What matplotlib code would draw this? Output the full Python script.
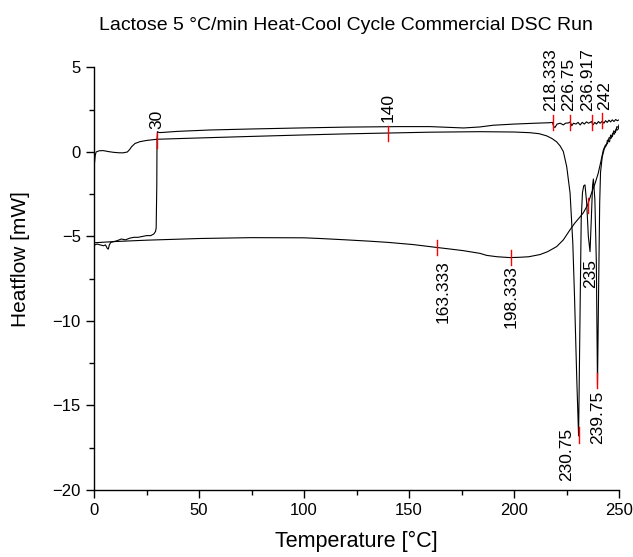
import matplotlib.pyplot as plt
from matplotlib.ticker import MultipleLocator

plt.rcParams['font.family'] = ['Liberation Sans', 'DejaVu Sans']

# first heating run (0 -> 250 C), with the melting endotherms
heat1_T = [0.2, 0.6, 1.0, 2.5, 4.4, 7, 9.2, 12, 14, 15.9, 17, 17.9, 19.5, 21.9, 25, 29.8, 40,
           50.5, 75, 98, 120, 140, 160, 183.8, 200, 207.6, 212, 215.6, 218, 220.3, 222, 223.5,
           225.1, 226.7, 228, 228.8, 229.9, 230.75, 231.5, 232, 232.6, 233.2, 233.8, 234.6,
           235.4, 236.2, 236.8, 237.4, 237.8, 238.5, 239.2, 239.75, 240.3, 240.8, 241.2, 242,
           243, 244, 244.5, 245.5, 246, 246.8, 247.5, 248.3, 249, 249.7, 250]
heat1_Q = [-0.7, -0.2, 0.0, 0.07, 0.08, 0.02, -0.02, -0.05, -0.05, 0.0, 0.15, 0.31, 0.5, 0.61,
           0.68, 0.75, 0.79, 0.83, 0.92, 1.0, 1.07, 1.12, 1.17, 1.2, 1.18, 1.14, 1.08, 0.95, 0.8,
           0.6, 0.35, 0.02, -0.87, -2.44, -5.4, -8.5, -13.5, -16.8, -9, -4, -2.4, -2.0, -1.95,
           -3.0, -5.0, -5.9, -4.0, -2.0, -1.6, -2.8, -6.5, -13.8, -8, -3, -1.2, -0.3, 0.2, 0.4,
           0.7, 0.6, 1.0, 0.9, 1.25, 1.15, 1.5, 1.45, 1.6]

# cooling run (250 -> 0 C)
cool_T = [250, 249.3, 248.6, 247.8, 247, 246.2, 245.3, 244.5, 243.5, 242.5, 241.3, 240.1, 238.5,
          237, 235, 233, 231.4, 229, 226.7, 223.5, 220.3, 216, 212.4, 207, 202.9, 198.1, 192,
          187, 183.8, 175.9, 170, 163.2, 152, 140, 131.4, 120, 107.6, 100, 75, 50.5, 25, 10, 0.3]
cool_Q = [1.45, 1.3, 1.35, 1.05, 1.1, 0.8, 0.85, 0.5, 0.4, 0.1, -0.6, -1.26, -1.9, -2.4, -3.15,
          -3.6, -3.85, -4.2, -4.6, -5.2, -5.6, -5.9, -6.07, -6.2, -6.23, -6.25, -6.2, -6.12, -6.0,
          -5.84, -5.75, -5.65, -5.48, -5.35, -5.28, -5.2, -5.12, -5.08, -5.07, -5.12, -5.22, -5.3,
          -5.37]

# second heating run (0 -> 250 C)
heat2_T = [0.3, 1.5, 3, 4.5, 5.5, 6.3, 6.8, 7.3, 8, 9.5, 11, 13, 15, 17, 19, 21, 23, 25, 27,
           28.5, 29.3, 29.6, 29.9, 30, 30.2, 31, 32, 40, 55.2, 75, 98, 120, 145, 160, 170, 176,
           183.8, 190, 200, 210, 217, 218.3, 218.9, 219.5, 220.5, 222, 223.5, 224.5, 226, 226.75,
           227.5, 228.3, 229.5, 230.5, 231.5, 232.5, 233.5, 234.5, 235.5, 236.9, 237.6, 238.5,
           239.3, 240.2, 241, 242, 242.8, 243.6, 244.4, 245.2, 246, 246.8, 247.6, 248.4, 249.2,
           250]
heat2_Q = [-5.5, -5.45, -5.5, -5.55, -5.5, -5.7, -5.75, -5.5, -5.35, -5.3, -5.25, -5.15, -5.2,
           -5.1, -5.05, -5.05, -5.0, -4.95, -4.95, -4.85, -4.7, -4.5, -2, 0.7, 1.2, 1.15, 1.15,
           1.22, 1.3, 1.36, 1.42, 1.47, 1.5, 1.5, 1.45, 1.42, 1.48, 1.58, 1.65, 1.7, 1.73, 1.75,
           1.5, 1.45, 1.65, 1.7, 1.6, 1.7, 1.72, 1.78, 1.55, 1.7, 1.65, 1.75, 1.6, 1.75, 1.65,
           1.78, 1.7, 1.8, 1.6, 1.75, 1.65, 1.8, 1.7, 1.82, 1.7, 1.85, 1.75, 1.88, 1.78, 1.9,
           1.8, 1.92, 1.85, 1.9]

# detected peaks (labels above) and valleys (labels below)
peak_T = [30, 140, 218.333, 226.75, 236.917, 242]
peak_Q = [0.7, 1.1, 1.75, 1.75, 1.75, 1.85]
peak_lbl = ['30', '140', '218.333', '226.75', '236.917', '242']
valley_T = [163.333, 198.333, 230.75, 235, 239.75]
valley_Q = [-5.65, -6.25, -16.75, -3.15, -13.5]
valley_lbl = ['163.333', '198.333', '230.75', '235', '239.75']

fig = plt.figure(figsize=(6.33, 5.57), dpi=100)
ax = fig.add_axes([0.1485, 0.1203, 0.8294, 0.7586])

lw = 0.8
ax.plot(heat1_T, heat1_Q, color='black', lw=lw)
ax.plot(cool_T, cool_Q, color='black', lw=lw)
ax.plot(heat2_T, heat2_Q, color='black', lw=lw)

half = 0.45
fs = 12.5
# small x shifts (C) so the crowded labels sit like in the original
peak_dx = [0, 0, -0.8, -0.6, -1.7, 1.3]
for t, q, s, dx in zip(peak_T, peak_Q, peak_lbl, peak_dx):
    ax.plot([t, t], [q - half, q + half], color='red', lw=1)
    ax.text(t + dx, q + half + 0.2, s, rotation=90, ha='center', va='bottom', fontsize=fs)

# label shifts (dx in C, dy in mW)
valley_shift = [(3.0, 0), (0.3, 0.3), (-5.6, 1.2), (1.3, -2.45), (0.3, 0.15)]
for (t, q, s), (dx, dy) in zip(zip(valley_T, valley_Q, valley_lbl), valley_shift):
    ax.plot([t, t], [q - half, q + half], color='red', lw=1)
    ax.text(t + dx, q - half - 0.3 + dy, s, rotation=90, ha='center', va='top', fontsize=fs)

ax.set_xlim(0, 250)
ax.set_ylim(-20, 5)
ax.xaxis.set_major_locator(MultipleLocator(50))
ax.xaxis.set_minor_locator(MultipleLocator(25))
ax.yaxis.set_major_locator(MultipleLocator(5))
ax.yaxis.set_minor_locator(MultipleLocator(2.5))
ax.tick_params(which='major', direction='out', length=6, width=1, labelsize=12)
ax.tick_params(which='minor', direction='out', length=3.5, width=1)
for side in ['top', 'right']:
    ax.spines[side].set_visible(False)
for side in ['left', 'bottom']:
    ax.spines[side].set_linewidth(1)

fig.text(346 / 633, 1 - 30 / 557, 'Lactose 5 °C/min Heat-Cool Cycle Commercial DSC Run',
         ha='center', va='baseline', fontsize=14)
fig.text(356 / 633, 1 - 547 / 557, 'Temperature [°C]', ha='center', va='baseline', fontsize=15.5)
fig.text(21 / 633, 1 - 259 / 557, 'Heatflow [mW]', rotation=90, ha='center', va='center',
         fontsize=15)

fig.savefig('out.png', dpi=100)
